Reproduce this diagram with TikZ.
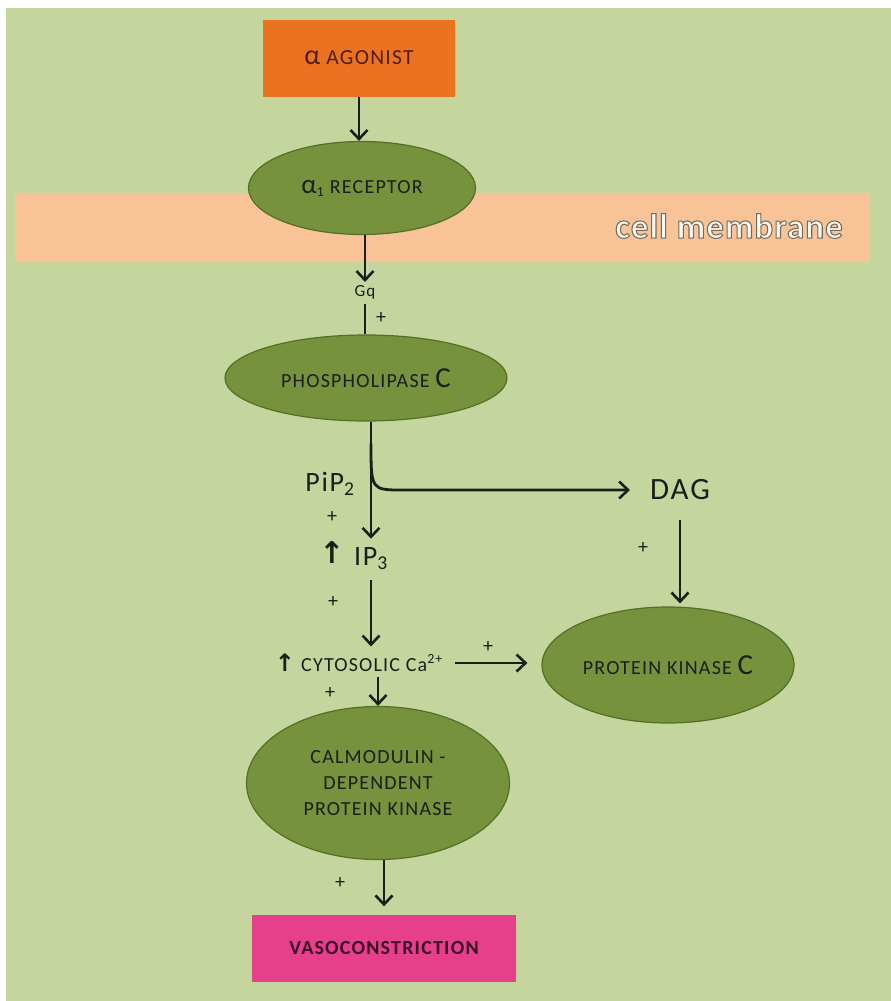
\documentclass[tikz,border=0pt]{standalone}
\usepackage{fontspec}
\setmainfont{Carlito}
\newfontfamily\capsfont{Carlito}[LetterSpace=6]
\newfontfamily\outlinefont{Carlito}[LetterSpace=3, BoldFeatures={FakeBold=3}]
\newfontfamily\symfont{DejaVu Sans}
\usepackage{tikz}
\usetikzlibrary{arrows.meta,shapes.geometric,calc}

\definecolor{leafbg}{RGB}{196,214,158}
\definecolor{membrane}{RGB}{249,195,152}
\definecolor{agonistorange}{RGB}{234,114,32}
\definecolor{vasopink}{RGB}{230,64,140}
\definecolor{enzymefill}{RGB}{118,146,60}
\definecolor{enzymeline}{RGB}{84,110,38}
\definecolor{inkdark}{RGB}{28,30,24}
\definecolor{agonistink}{RGB}{80,30,12}
\definecolor{vasoink}{RGB}{60,12,36}
\definecolor{membraneink}{RGB}{252,250,244}

\begin{document}
\begin{tikzpicture}[x=1pt, y=-1pt,
    enzyme/.style={ellipse, draw=enzymeline, line width=1.2pt, fill=enzymefill, inner sep=0pt,
                   align=center, text=inkdark, font=\capsfont\fontsize{20}{26}\selectfont},
    mol/.style={inner sep=0pt, text=inkdark, font=\capsfont\fontsize{28}{30}\selectfont},
    plus/.style={inner sep=0pt, text=inkdark, font=\fontsize{20}{20}\selectfont},
    uparr/.style={inner sep=0pt, text=inkdark, font=\symfont\bfseries\fontsize{24}{24}\selectfont},
    arr/.style={-{Straight Barb[length=9pt,width=17pt,line width=2.6pt]}, line width=2.8pt, draw=inkdark}]
  \useasboundingbox (0,0) rectangle (891,1001);
  \fill[white] (0,0) rectangle (891,1001);
  \fill[leafbg] (6,8) rectangle (891,1001);
  \fill[membrane] (15,193) rectangle (870,262);
  % cell membrane label, light letters with a grey-brown rim
  \node[text=membraneink, font=\outlinefont\bfseries\fontsize{35}{35}\selectfont] (memlabel) at (729,226)
    {\special{pdf:literal direct 0.47 0.41 0.34 RG}cell membrane};

  \node[fill=agonistorange, minimum width=192pt, minimum height=77pt, text=agonistink,
        font=\capsfont\fontsize{21.5}{21.5}\selectfont] (agonist) at (359,58)
    {{\fontsize{28}{28}\selectfont α} AGONIST};
  \node[enzyme, minimum width=227pt, minimum height=93pt] (receptor) at (362,188)
    {{\fontsize{27}{27}\selectfont α}\textsubscript{1} RECEPTOR};
  \node[inner sep=0pt, text=inkdark, font=\capsfont\fontsize{17}{17}\selectfont] (gq) at (365,292) {Gq};
  \node[plus] (plusgq) at (381,318) {+};
  \node[enzyme, minimum width=282pt, minimum height=86pt] (plc) at (366,378)
    {PHOSPHOLIPASE {\fontsize{29}{29}\selectfont C}};
  \node[mol] (pip) at (330,484) {PiP\textsubscript{2}};
  \node[mol, font=\capsfont\fontsize{31}{31}\selectfont] (dag) at (680,490) {DAG};
  \node[plus] (pluspip) at (332,517) {+};
  \node[uparr, font=\symfont\bfseries\fontsize{30}{30}\selectfont] (ip3up) at (332,553) {↑};
  \node[mol] (ip3) at (371,559) {IP\textsubscript{3}};
  \node[plus] (plusip) at (333,602) {+};
  \node[plus] (plusdag) at (643,548) {+};
  \node[uparr] (cytoup) at (285,663) {↑};
  \node[inner sep=0pt, text=inkdark, font=\capsfont\fontsize{20}{20}\selectfont] (cyto) at (372,663)
    {CYTOSOLIC Ca\textsuperscript{2+}};
  \node[plus] (plusca) at (488,647) {+};
  \node[enzyme, minimum width=252pt, minimum height=116pt] (pkc) at (668,665)
    {PROTEIN KINASE {\fontsize{29}{29}\selectfont C}};
  \node[plus] (pluscyto) at (330,693) {+};
  \node[enzyme, minimum width=263pt, minimum height=153pt] (camk) at (378,783)
    {CALMODULIN -\\DEPENDENT\\PROTEIN KINASE};
  \node[plus] (plusvaso) at (340,883) {+};
  \node[fill=vasopink, minimum width=264pt, minimum height=67pt, text=vasoink,
        font=\capsfont\bfseries\fontsize{20}{20}\selectfont] (vaso) at (384,948) {VASOCONSTRICTION};

  \coordinate (split) at ($(plc.south -| ip3.north)+(0,22)$);
  \draw[arr] (agonist.south) -- (agonist.south |- receptor.north);
  \draw[arr, shorten >=3pt] (gq.north |- receptor.south) -- (gq.north);
  \draw[line width=2.8pt, draw=inkdark, shorten <=5pt] (gq.south) -- (gq.south |- plc.north);
  \draw[arr, shorten >=9pt] (plc.south -| ip3.north) -- (ip3.north);
  \draw[arr, shorten >=20pt] (split) .. controls (split |- dag.west) .. ($(split |- dag.west)+(32,0)$)
    -- (dag.west);
  \draw[arr, shorten <=10pt, shorten >=8pt] (ip3.south) -- (ip3.south |- cyto.north);
  \draw[arr, shorten <=20pt, shorten >=3pt] (dag.south) -- (dag.south |- pkc.north);
  \draw[arr, shorten <=12pt, shorten >=14pt] (cyto.east) -- (cyto.east -| pkc.west);
  \draw[arr, shorten <=5pt] (cyto.south -| camk.north) -- (camk.north);
  \draw[arr, shorten >=8pt] (camk.south -| vaso.north) -- (vaso.north);
\end{tikzpicture}
\end{document}
